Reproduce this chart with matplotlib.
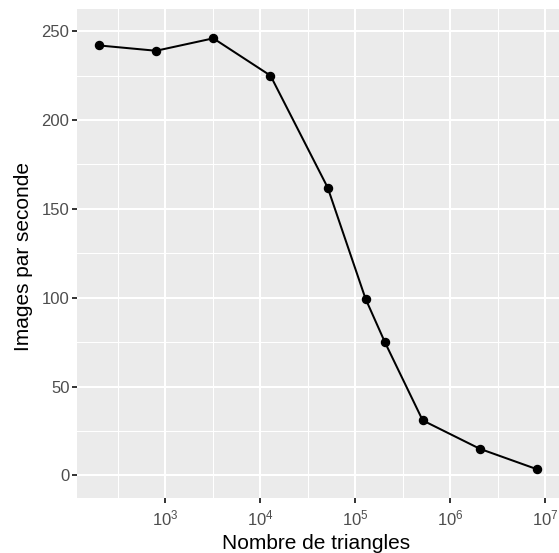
import matplotlib

matplotlib.use("Agg")
import matplotlib.pyplot as plt
import numpy as np
from matplotlib.ticker import FixedLocator, LogFormatterMathtext, NullFormatter

# Rendering benchmark: frame rate against scene size
triangles = [200, 800, 3200, 12800, 51200, 128000, 204800, 512000, 2048000, 8192000]
fps = [242, 239, 246, 225, 162, 99.5, 75, 31, 15, 3.5]

y_breaks = [0, 50, 100, 150, 200, 250]
y_minor = [25, 75, 125, 175, 225]
x_breaks = [1e3, 1e4, 1e5, 1e6, 1e7]
x_minor = [10 ** 2.5, 10 ** 3.5, 10 ** 4.5, 10 ** 5.5, 10 ** 6.5]

x_label = "Nombre de triangles"
y_label = "Images par seconde"

PANEL_BG = "#EBEBEB"
TICK_TEXT = "#4D4D4D"
TICK_LINE = "#333333"

plt.rcParams["font.family"] = ["Liberation Sans", "DejaVu Sans"]
plt.rcParams["mathtext.fontset"] = "custom"
plt.rcParams["mathtext.rm"] = "Liberation Sans"
plt.rcParams["mathtext.it"] = "Liberation Sans:italic"
plt.rcParams["mathtext.bf"] = "Liberation Sans:bold"

W, H = 559, 553
fig = plt.figure(figsize=(W / 100, H / 100), dpi=100)
left, top, bottom = 77, 9, 497.7
ax = fig.add_axes([left / W, (H - bottom) / H, (W - left) / W, (bottom - top) / H])
ax.set_facecolor(PANEL_BG)

# ggplot-style 5% expansion on a log scale for x, on 0..250 for y
lx = np.log10(triangles)
span = lx.max() - lx.min()
ax.set_xscale("log")
ax.set_xlim(10 ** (lx.min() - 0.05 * span), 10 ** (lx.max() + 0.05 * span))
ax.set_ylim(-0.05 * 250, 250 * 1.05)

ax.xaxis.set_major_locator(FixedLocator(x_breaks))
ax.xaxis.set_minor_locator(FixedLocator(x_minor))
ax.xaxis.set_major_formatter(LogFormatterMathtext())
ax.xaxis.set_minor_formatter(NullFormatter())
ax.yaxis.set_major_locator(FixedLocator(y_breaks))
ax.yaxis.set_minor_locator(FixedLocator(y_minor))

ax.grid(which="major", color="white", linewidth=1.45)
ax.grid(which="minor", color="white", linewidth=0.75)
ax.set_axisbelow(True)
for s in ax.spines.values():
    s.set_visible(False)

ax.tick_params(which="major", length=3.6, width=1.4, color=TICK_LINE,
               labelcolor=TICK_TEXT, labelsize=12)
ax.tick_params(axis="y", pad=1.8)
ax.tick_params(axis="x", pad=4.2)
ax.tick_params(which="minor", length=0)

ax.plot(triangles, fps, color="black", linewidth=1.45, marker="o",
        markersize=5.8, zorder=3)

ax.set_xlabel(x_label, fontsize=15)
ax.set_ylabel(y_label, fontsize=15)
ax.xaxis.set_label_coords(0.497, -0.074)
ax.yaxis.set_label_coords(-0.091, 0.494)

fig.savefig("out.png", dpi=100)
